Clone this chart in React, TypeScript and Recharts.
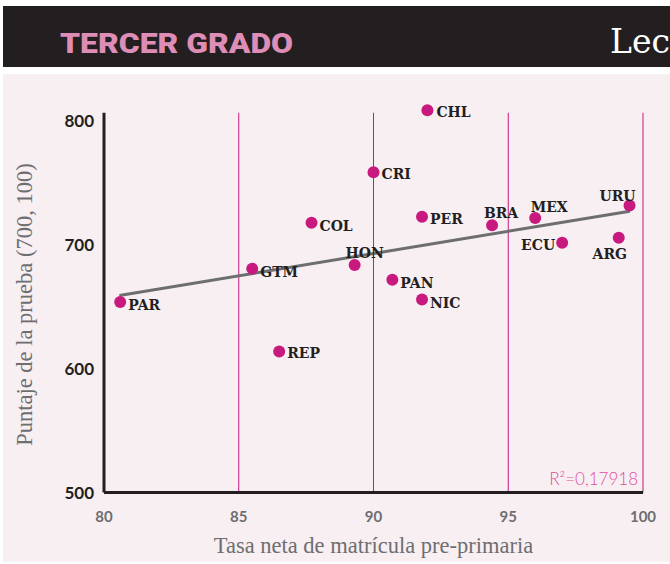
import React from 'react';
import { ScatterChart, Scatter, XAxis, YAxis, ReferenceLine } from 'recharts';

// ---- data ----
const countries = ['PAR', 'GTM', 'REP', 'COL', 'HON', 'CRI', 'PAN', 'NIC', 'PER', 'CHL', 'BRA', 'MEX', 'ECU', 'ARG', 'URU'];
const enrollment = [80.6, 85.5, 86.5, 87.7, 89.3, 90.0, 90.7, 91.8, 91.8, 92.0, 94.4, 96.0, 97.0, 99.1, 99.5];
const scores = [654, 681, 614, 718, 684, 759, 672, 656, 723, 809, 716, 722, 702, 706, 732];
const xTicks = [80, 85, 90, 95, 100];
const yTicks = [500, 600, 700, 800];
const gridX = [85, 90, 95, 100];
const trendX = [80.57, 99.51];
const trendY = [659.3, 727.4];
const r2Text = 'R²=0,17918';
const headerTitle = 'TERCER GRADO';
const headerRight = 'Lec';
const xTitle = 'Tasa neta de matrícula pre-primaria';
const yTitle = 'Puntaje de la prueba (700, 100)';

// ---- style ----
const PINK = '#c8197f';
const DARK = '#231f20';
const GREY = '#6d6e70';
const labelOffsets: Record<string, [number, number, 'start' | 'middle' | 'end']> = {
  PAR: [8, 3, 'start'],
  GTM: [8, 3, 'start'],
  REP: [8, 2, 'start'],
  COL: [8, 3, 'start'],
  HON: [10, -12, 'middle'],
  CRI: [8, 2, 'start'],
  PAN: [8, 3, 'start'],
  NIC: [8, 3, 'start'],
  PER: [8, 2, 'start'],
  CHL: [9, 1.5, 'start'],
  BRA: [9, -12, 'middle'],
  MEX: [14, -11, 'middle'],
  ECU: [-7, 2, 'end'],
  ARG: [-9, 16, 'middle'],
  URU: [-12, -10, 'middle'],
};

const data = countries.map((c, i) => ({ code: c, x: enrollment[i], y: scores[i] }));
const trendData = trendX.map((x, i) => ({ x, y: trendY[i] }));
const r2Data = [{ x: 100, y: 500 }];

const PointShape = (props: any) => {
  const { cx, cy, payload } = props;
  const [dx, dy, anchor] = labelOffsets[payload.code] ?? [8, 3, 'start'];
  return (
    <g>
      <circle cx={cx} cy={cy} r={6} fill={PINK} />
      <text
        x={cx + dx}
        y={cy + dy + 5}
        textAnchor={anchor}
        fontFamily="DejaVu Serif"
        fontWeight={700}
        fontSize={14}
        fill={DARK}
      >
        {payload.code}
      </text>
    </g>
  );
};

const NoShape = () => <g />;

const R2Shape = (props: any) => {
  const { cx, cy } = props;
  return (
    <text x={cx - 5} y={cy - 7.5} textAnchor="end" fontFamily="Lato" fontWeight={300} fontSize={17} fill="#de4f9b">
      {r2Text}
    </text>
  );
};

export default function App() {
  return (
    <div style={{ position: 'absolute', left: 0, top: 0, width: 670, height: 564, background: '#ffffff', overflow: 'hidden' }}>
      <div style={{ position: 'absolute', left: 3, top: 6, width: 667, height: 61, background: DARK }}>
        <svg width={667} height={61} style={{ display: 'block' }}>
          <text
            x={57}
            y={47}
            fontFamily="Roboto"
            fontWeight={900}
            fontSize={28}
            fill="#de8db6"
            textLength={233}
            lengthAdjust="spacingAndGlyphs"
          >
            {headerTitle}
          </text>
          <text x={607} y={47} fontFamily="DejaVu Serif" fontSize={33} fill="#ffffff">
            {headerRight}
          </text>
        </svg>
      </div>
      <div style={{ position: 'absolute', left: 3, top: 74, width: 667, height: 488, background: '#f8eff3' }} />
      <div style={{ position: 'absolute', left: 0, top: 0 }}>
        <ScatterChart width={670} height={564} margin={{ top: 106.6, right: 27, bottom: 11.5, left: 14 }}>
          <XAxis
            type="number"
            dataKey="x"
            domain={[80, 100]}
            ticks={xTicks}
            tickLine={false}
            tickSize={0}
            tickMargin={19}
            height={60}
            axisLine={{ stroke: DARK, strokeWidth: 3 }}
            tick={{ fill: GREY, fontFamily: 'Lato', fontWeight: 700, fontSize: 15 }}
            label={{
              value: xTitle,
              position: 'center',
              dy: 23,
              style: { fill: GREY, fontFamily: 'Liberation Serif', fontSize: 22.5 },
            }}
          />
          <YAxis
            type="number"
            dataKey="y"
            domain={[500, 812]}
            ticks={yTicks}
            tickLine={false}
            tickSize={0}
            tickMargin={10}
            width={90}
            axisLine={false}
            tick={{ fill: DARK, fontFamily: 'Lato', fontWeight: 700, fontSize: 17 }}
            label={{
              value: yTitle,
              angle: -90,
              position: 'center',
              dx: -35,
              dy: 5,
              style: { fill: GREY, fontFamily: 'Liberation Serif', fontSize: 22.5, textAnchor: 'middle' },
            }}
          />
          {gridX.map((g) => (
            <ReferenceLine
              key={g}
              segment={[
                { x: g, y: 500 },
                { x: g, y: 807 },
              ]}
              stroke={PINK}
              strokeWidth={1}
            />
          ))}
          <ReferenceLine
            segment={[
              { x: 80, y: 500 },
              { x: 80, y: 807 },
            ]}
            stroke={DARK}
            strokeWidth={3}
          />
          <Scatter
            data={trendData}
            line={{ stroke: '#6d6e70', strokeWidth: 3 }}
            shape={NoShape}
            isAnimationActive={false}
          />
          <Scatter data={data} shape={PointShape} isAnimationActive={false} />
          <Scatter data={r2Data} shape={R2Shape} isAnimationActive={false} />
        </ScatterChart>
      </div>
    </div>
  );
}
